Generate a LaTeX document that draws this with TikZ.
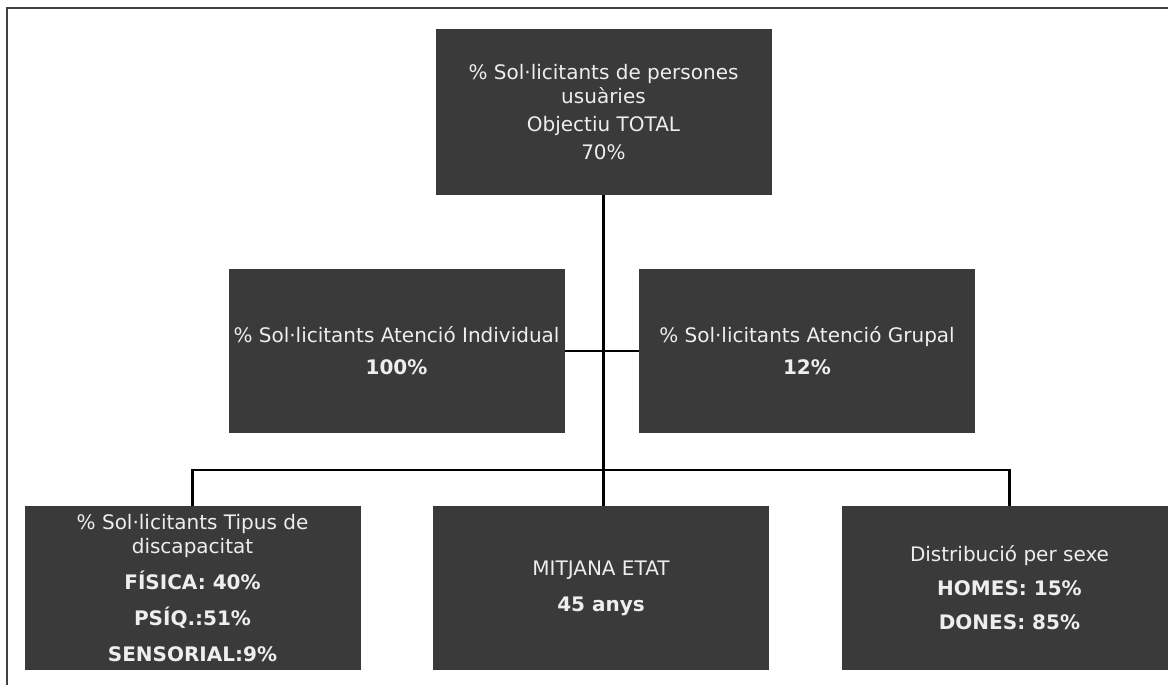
\documentclass[tikz,border=0pt]{standalone}
\usepackage{fontspec}
\newfontfamily\boxfont{DejaVu Sans}
\definecolor{boxgray}{RGB}{58,58,58}
\definecolor{boxtext}{RGB}{238,238,238}

\begin{document}
\begin{tikzpicture}[x=0.5pt,y=-0.5pt,
  box/.style={fill=boxgray, text=boxtext, inner sep=0pt, align=center,
    minimum width=168pt, minimum height=82pt,
    font=\boxfont\fontsize{10}{12}\selectfont},
  link/.style={line width=1.3pt}]
  \useasboundingbox (0,0) rectangle (1168,685);
  \clip (0,0) rectangle (1168,685);
  \draw[line width=1pt, black!75] (7,8) rectangle (1200,720);

  \node[box, minimum height=83pt](total) at (603.5,112)
    {\% Sol·licitants de persones\\ usuàries\\[2pt] Objectiu TOTAL\\[2pt] 70\%};
  \node[box](indiv)  at (396.5,351) {\% Sol·licitants Atenció Individual\\[4pt] \textbf{100\%}};
  \node[box](grupal) at (807,351)   {\% Sol·licitants Atenció Grupal\\[4pt] \textbf{12\%}};
  \node[box](discap) at (192.5,588)
    {\% Sol·licitants Tipus de\\ discapacitat\\[6pt] \textbf{FÍSICA: 40\%}\\[6pt]
     \textbf{PSÍQ.:51\%}\\[6pt] \textbf{SENSORIAL:9\%}};
  \node[box](etat)   at (601,588)    {MITJANA ETAT\\[6pt] \textbf{45 anys}};
  \node[box](sexe)   at (1009.5,588) {Distribució per sexe\\[5pt] \textbf{HOMES: 15\%}\\[5pt] \textbf{DONES: 85\%}};

  \coordinate (bus) at (600,470);

  \draw[link] (total.south) -- (total.south |- etat.north);
  \draw[link] (indiv.east) -- (grupal.west);
  \draw[link] (discap.north) |- (bus) -| (sexe.north);
\end{tikzpicture}
\end{document}
